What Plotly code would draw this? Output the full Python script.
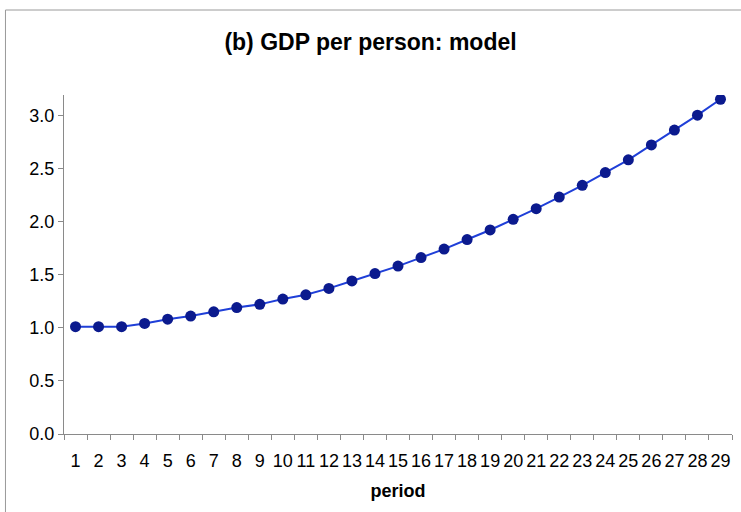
import plotly.graph_objects as go

period = list(range(1, 30))
gdp_per_person = [
    1.01, 1.01, 1.01, 1.04, 1.08, 1.11, 1.15, 1.19, 1.22, 1.27,
    1.31, 1.37, 1.44, 1.51, 1.58, 1.66, 1.74, 1.83, 1.92, 2.02,
    2.12, 2.23, 2.34, 2.46, 2.58, 2.72, 2.86, 3.00, 3.15,
]
y_ticks = [0.0, 0.5, 1.0, 1.5, 2.0, 2.5, 3.0]

fig = go.Figure()

fig.add_trace(
    go.Scatter(
        x=period,
        y=gdp_per_person,
        mode="lines+markers",
        line=dict(color="#1f3fd8", width=2),
        marker=dict(color="#0b1a8e", size=11),
        showlegend=False,
    )
)

fig.update_layout(
    width=741,
    height=512,
    paper_bgcolor="white",
    plot_bgcolor="white",
    margin=dict(l=64, r=9, t=95, b=78),
    font=dict(family="Liberation Sans, Arial, sans-serif", size=18, color="black"),
    title=dict(
        text="<b>(b) GDP per person: model</b>",
        x=0.5,
        xref="container",
        xanchor="center",
        y=1 - 42 / 512,
        yanchor="middle",
        font=dict(size=23),
    ),
    shapes=[
        dict(
            type="rect",
            xref="paper",
            yref="paper",
            x0=-0.0876,
            x1=1.05,
            y0=-0.3,
            y1=1.2507,
            line=dict(color="#9a9a9a", width=1),
            fillcolor="rgba(0,0,0,0)",
            layer="below",
        )
    ],
)

fig.update_xaxes(
    range=[0.5, 29.5],
    tickvals=period,
    ticktext=[str(p) for p in period],
    ticks="",
    ticklabelstandoff=10,
    showgrid=False,
    zeroline=False,
    showline=True,
    linecolor="#8a8a8a",
    linewidth=1,
    tickfont=dict(size=18),
    minor=dict(ticks="outside", tick0=0.5, dtick=1, ticklen=5, tickcolor="#8a8a8a", showgrid=False),
    title=dict(text="<b>period</b>", font=dict(size=18), standoff=14),
)

fig.update_yaxes(
    range=[0, 3.19],
    tickvals=y_ticks,
    ticktext=[f"{v:.1f}" for v in y_ticks],
    ticks="outside",
    ticklen=5,
    tickcolor="#8a8a8a",
    showgrid=False,
    zeroline=False,
    showline=True,
    linecolor="#8a8a8a",
    linewidth=1,
    tickfont=dict(size=18),
)

fig.write_html(
    "out.html",
    config={"displayModeBar": False},
    post_script="document.body.style.margin='0';",
)
